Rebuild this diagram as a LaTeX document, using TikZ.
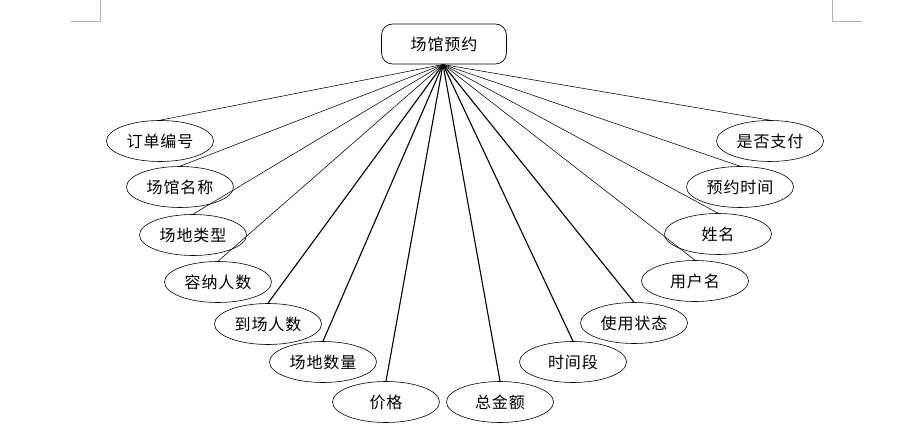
\documentclass[tikz,border=0pt]{standalone}
\usepackage{fontspec}
\setmainfont{Noto Sans CJK SC}[LetterSpace=6]
\usetikzlibrary{shapes.geometric}
\begin{document}
\begin{tikzpicture}[x=1pt,y=-1pt,
  attr/.style={ellipse,draw,line width=0.6pt,minimum width=107pt,minimum height=41pt,inner sep=0pt,font=\fontsize{16}{18}\selectfont},
  entity/.style={rectangle,rounded corners=11pt,draw,line width=0.7pt,minimum width=125pt,minimum height=40pt,inner sep=0pt,font=\fontsize{16}{18}\selectfont},
  thinlink/.style={line width=0.55pt},
  thicklink/.style={line width=1.1pt},
  cornermark/.style={draw=gray!60,line width=0.6pt}]
\useasboundingbox (0,0) rectangle (902,435);
\draw[cornermark] (100,0) -- (100,21) -- (71,21);
\draw[cornermark] (832,0) -- (832,21) -- (862,21);
\node[entity] (root) at (444,44) {场馆预约};
\coordinate (hub) at (443,64.5);
\node[attr] (a1) at (160,141) {订单编号};
\node[attr] (a2) at (180,187) {场馆名称};
\node[attr] (a3) at (193,235) {场地类型};
\node[attr] (a4) at (218,282) {容纳人数};
\node[attr] (a5) at (268,324) {到场人数};
\node[attr] (a6) at (323,362) {场地数量};
\node[attr] (a7) at (386,402) {价格};
\node[attr] (a8) at (500,402) {总金额};
\node[attr] (a9) at (573,362) {时间段};
\node[attr] (a10) at (634,323) {使用状态};
\node[attr] (a11) at (695,281) {用户名};
\node[attr] (a12) at (718,234) {姓名};
\node[attr] (a13) at (740,187) {预约时间};
\node[attr] (a14) at (770,141) {是否支付};
\draw[thinlink] (hub) -- (a1.north);
\draw[thinlink] (hub) -- (a2.north);
\draw[thinlink] (hub) -- (a3.north);
\draw[thinlink] (hub) -- (a4.north);
\draw[thicklink] (hub) -- (a5.north);
\draw[thicklink] (hub) -- (a6.north);
\draw[thicklink] (hub) -- (a7.north);
\draw[thicklink] (hub) -- (a8.north);
\draw[thicklink] (hub) -- (a9.north);
\draw[thicklink] (hub) -- (a10.north);
\draw[thinlink] (hub) -- (a11.north);
\draw[thinlink] (hub) -- (a12.north);
\draw[thinlink] (hub) -- (a13.north);
\draw[thinlink] (hub) -- (a14.north);
\end{tikzpicture}
\end{document}
